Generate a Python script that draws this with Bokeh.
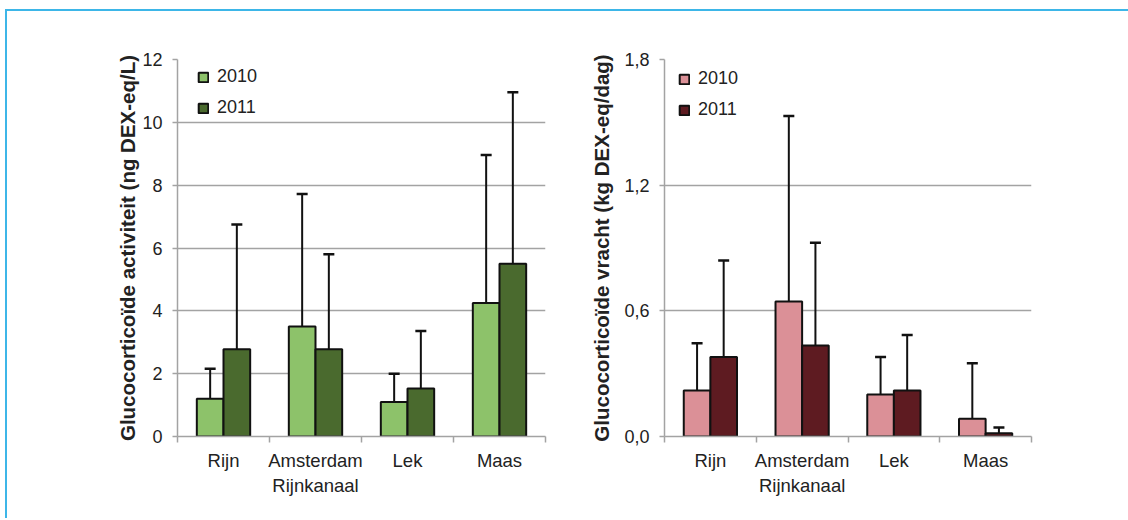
from bokeh.plotting import figure
from bokeh.models import Range1d, FixedTicker, Whisker, ColumnDataSource, TeeHead
from bokeh.layouts import row
from bokeh.embed import file_html
from bokeh.resources import INLINE

categories = ["Rijn", "Amsterdam\nRijnkanaal", "Lek", "Maas"]
years = ["2010", "2011"]

act_2010 = [1.2, 3.5, 1.1, 4.25]
act_2011 = [2.78, 2.78, 1.53, 5.5]
act_2010_top = [2.16, 7.72, 2.0, 8.96]
act_2011_top = [6.75, 5.8, 3.36, 10.96]

load_2010 = [0.22, 0.645, 0.2, 0.085]
load_2011 = [0.38, 0.435, 0.22, 0.015]
load_2010_top = [0.445, 1.53, 0.38, 0.35]
load_2011_top = [0.84, 0.925, 0.485, 0.043]

act_ticks = [0, 2, 4, 6, 8, 10, 12]
act_tick_labels = ["0", "2", "4", "6", "8", "10", "12"]
load_ticks = [0, 0.6, 1.2, 1.8]
load_tick_labels = ["0,0", "0,6", "1,2", "1,8"]

FONT = "Liberation Sans"
GRID = "#a3a3a3"
TXT = "#222222"


def make_chart(vals_a, vals_b, tops_a, tops_b, ymax, ticks, tick_labels, title,
               colors, width, height, bl, br, bt, bb, legend_loc, title_standoff):
    p = figure(width=width, height=height, output_backend="svg", toolbar_location=None,
               x_range=Range1d(0, len(categories)), y_range=Range1d(0, ymax),
               min_border_left=bl, min_border_right=br, min_border_top=bt, min_border_bottom=bb)
    p.outline_line_color = None
    p.xgrid.grid_line_color = None
    p.ygrid.grid_line_color = GRID
    p.ygrid.grid_line_width = 1.5
    p.ygrid.ticker = FixedTicker(ticks=ticks)

    w = 0.29
    xs = list(range(len(categories)))
    for vals, tops, col, yr, off in ((vals_a, tops_a, colors[0], years[0], -w / 2),
                                     (vals_b, tops_b, colors[1], years[1], w / 2)):
        src = ColumnDataSource(dict(x=[i + 0.5 + off for i in xs], top=vals, up=tops))
        p.vbar(x="x", top="top", width=w, source=src, fill_color=col,
               line_color="#111111", line_width=2, legend_label=yr)
        p.add_layout(Whisker(base="x", lower="top", upper="up", source=src,
                             line_color="#111111", line_width=2,
                             upper_head=TeeHead(size=11, line_color="#111111", line_width=2.5),
                             lower_head=None, level="overlay"))

    xa = p.xaxis[0]
    xa.ticker = FixedTicker(ticks=[i + 0.5 for i in xs], minor_ticks=list(range(len(categories) + 1)))
    xa.major_label_overrides = {i + 0.5: c for i, c in zip(xs, categories)}
    xa.major_tick_line_color = None
    xa.major_tick_out = 0
    xa.minor_tick_out = 6
    xa.minor_tick_in = 0
    xa.minor_tick_line_color = GRID
    xa.minor_tick_line_width = 1.5
    xa.axis_line_color = GRID
    xa.axis_line_width = 1.5
    xa.major_label_text_font = FONT
    xa.major_label_text_font_size = "18.5px"
    xa.major_label_text_color = TXT
    xa.major_label_standoff = 7

    ya = p.yaxis[0]
    ya.ticker = FixedTicker(ticks=ticks, minor_ticks=[])
    ya.major_label_overrides = {t: l for t, l in zip(ticks, tick_labels)}
    ya.major_tick_out = 5
    ya.major_tick_in = 0
    ya.major_tick_line_color = GRID
    ya.major_tick_line_width = 1.5
    ya.minor_tick_line_color = None
    ya.axis_line_color = GRID
    ya.axis_line_width = 1.5
    ya.major_label_text_font = FONT
    ya.major_label_text_font_size = "18px"
    ya.major_label_text_color = TXT
    ya.major_label_standoff = 10
    ya.axis_label = title
    ya.axis_label_text_font = FONT
    ya.axis_label_text_font_style = "bold"
    ya.axis_label_text_font_size = "20.5px"
    ya.axis_label_text_color = TXT
    ya.axis_label_standoff = title_standoff

    lg = p.legend[0]
    lg.location = legend_loc
    lg.glyph_width = 12
    lg.glyph_height = 12
    lg.label_height = 18
    lg.spacing = 10
    lg.padding = 4
    lg.margin = 0
    lg.label_standoff = 8
    lg.label_text_font = FONT
    lg.label_text_font_size = "18px"
    lg.label_text_color = TXT
    lg.border_line_color = None
    lg.background_fill_color = "white"
    lg.background_fill_alpha = 1
    return p


p1 = make_chart(act_2010, act_2011, act_2010_top, act_2011_top, 12, act_ticks, act_tick_labels,
                "Glucocorticoïde activiteit (ng DEX-eq/L)", ("#8dc26a", "#4a6a2e"),
                548, 507, 170, 10, 46, 82, (20, 318), 0)
p2 = make_chart(load_2010, load_2011, load_2010_top, load_2011_top, 1.8, load_ticks, load_tick_labels,
                "Glucocorticoïde vracht (kg DEX-eq/dag)", ("#db9097", "#5e1b21"),
                573, 507, 109, 97, 48, 79, (14, 316), 8)

layout = row(p1, p2, styles={"border-top": "2px solid #3db6e8", "border-left": "2px solid #3db6e8",
                             "margin-left": "5px", "margin-top": "9px"})

open("out.html", "w").write(file_html(layout, INLINE))
